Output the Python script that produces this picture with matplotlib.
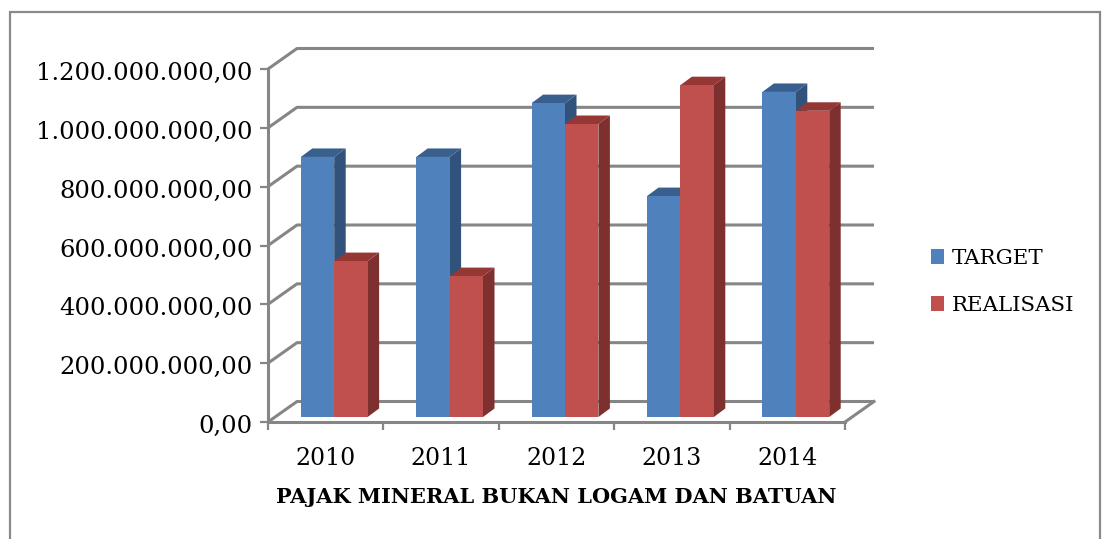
import matplotlib.pyplot as plt
from matplotlib.patches import Polygon, Rectangle
from matplotlib.transforms import ScaledTranslation

tahun = ['2010', '2011', '2012', '2013', '2014']
target = [884e6, 884e6, 1067e6, 751e6, 1105e6]
realisasi = [530e6, 479e6, 996e6, 1128e6, 1041e6]
yticks = [0, 200e6, 400e6, 600e6, 800e6, 1000e6, 1200e6]

plt.rcParams['font.family'] = 'DejaVu Serif'

W, H = 1105, 539
fig = plt.figure(figsize=(W / 100, H / 100), dpi=100)
# sumbu depan dalam piksel: x 268-845, y 69-422
ax = fig.add_axes([268 / W, 1 - 422 / H, 577 / W, 353 / H])
ax.set_xlim(0, 5)
ax.set_ylim(0, 1200e6)

# ukuran piksel ke satuan data
px = 5 / 577
py = 1200e6 / 353

abu = '#868686'
dx_wall, dy_wall = 29 * px, 20.5 * py

# dinding belakang dan lantai
for t in yticks:
    ax.plot([0, dx_wall, 5 + dx_wall], [t, t + dy_wall, t + dy_wall],
            color=abu, lw=2.2, clip_on=False, zorder=1, solid_capstyle='butt')
ax.plot([5, 5 + dx_wall], [0, dy_wall], color=abu, lw=2.2, clip_on=False, zorder=1)

# batang 3D
lebar = 33.4 * px
geser = 8.5 * px
dasar = 5 * py
dx, dy = 11.5 * px, 8.5 * py


def batang3d(x0, nilai, warna, samping, atas):
    x1 = x0 + lebar
    y1 = dasar + nilai
    ax.add_patch(Polygon([(x1, dasar), (x1 + dx, dasar + dy), (x1 + dx, y1 + dy), (x1, y1)],
                         facecolor=samping, edgecolor='none', clip_on=False, zorder=3))
    ax.add_patch(Polygon([(x0, y1), (x0 + dx, y1 + dy), (x1 + dx, y1 + dy), (x1, y1)],
                         facecolor=atas, edgecolor='none', clip_on=False, zorder=3))
    ax.add_patch(Rectangle((x0, dasar), lebar, nilai, facecolor=warna, edgecolor='none',
                           clip_on=False, zorder=4))


for i in range(len(tahun)):
    tengah = i + 0.5 + geser
    batang3d(tengah - lebar, target[i], '#4F81BD', '#31527B', '#395F8F')
    batang3d(tengah, realisasi[i], '#C0504D', '#7D302E', '#953735')

# sumbu
for s in ['top', 'right']:
    ax.spines[s].set_visible(False)
for s in ['left', 'bottom']:
    ax.spines[s].set_color(abu)
    ax.spines[s].set_linewidth(2.2)
    ax.spines[s].set_zorder(2)
ax.patch.set_alpha(0)

ax.set_yticks(yticks)
ax.set_yticklabels([f'{t:,.2f}'.replace(',', '.')[:-3] + ',00' for t in yticks], fontsize=17.5)
ax.tick_params(axis='y', length=6, width=1.6, color=abu, pad=5, labelcolor='black')
for lab in ax.get_yticklabels():
    lab.set_transform(lab.get_transform() + ScaledTranslation(0, -2 / 100, fig.dpi_scale_trans))

ax.set_xticks(range(6))
ax.set_xticklabels([])
ax.set_xticks([i + 0.5 for i in range(5)], labels=tahun, minor=True, fontsize=17)
ax.tick_params(axis='x', which='major', length=6, width=1.6, color=abu)
ax.tick_params(axis='x', which='minor', length=0, pad=18, labelcolor='black')

ax.set_xlabel('PAJAK MINERAL BUKAN LOGAM DAN BATUAN', fontsize=15, fontweight='bold',
              labelpad=12, color='black')

# legenda
handles = [Rectangle((0, 0), 1, 1, facecolor='#4F81BD'), Rectangle((0, 0), 1, 1, facecolor='#C0504D')]
fig.legend(handles, ['TARGET', 'REALISASI'], loc='center left', bbox_to_anchor=(922 / W, 1 - 282 / H),
           frameon=False, fontsize=15.4, handlelength=0.65, handleheight=0.65, handletextpad=0.35,
           labelspacing=1.3, borderaxespad=0)

# bingkai luar, sisi bawah terpotong gambar
fig.add_artist(Rectangle((10 / W, -10 / H), 1090 / W, (H - 12 + 10) / H, transform=fig.transFigure,
                         facecolor='none', edgecolor='#8a8a8a', lw=1.6))

plt.savefig('out.png', dpi=100)
